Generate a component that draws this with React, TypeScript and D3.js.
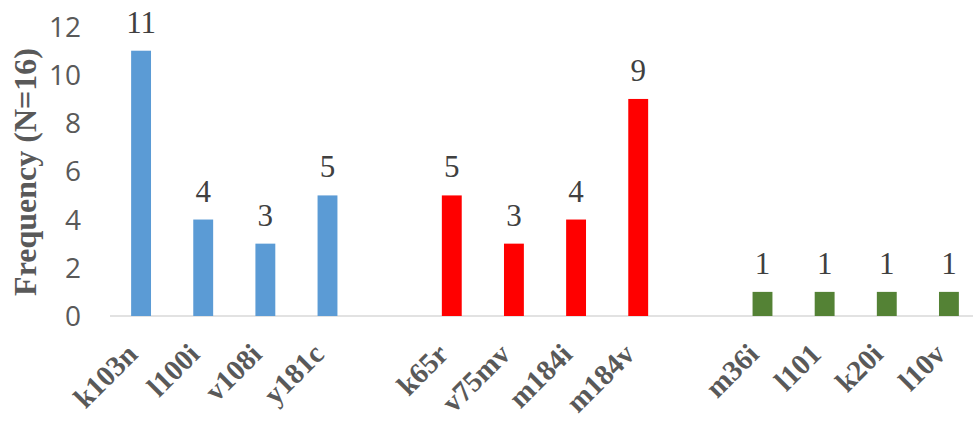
import React from "react";
import * as d3 from "d3";

const categories = ["k103n", "l100i", "v108i", "y181c", "", "k65r", "v75mv", "m184i", "m184v", "", "m36i", "l101", "k20i", "l10v"];
const values: (number | null)[] = [11, 4, 3, 5, null, 5, 3, 4, 9, null, 1, 1, 1, 1];
const groups = ["blue", "blue", "blue", "blue", "", "red", "red", "red", "red", "", "green", "green", "green", "green"];
const yTicks = [0, 2, 4, 6, 8, 10, 12];
const colorMap: Record<string, string> = { blue: "#5b9bd5", red: "#ff0000", green: "#548235" };

export default function App() {
  const W = 973, H = 425;
  const idx = categories.map((_, i) => String(i));
  const x = d3.scaleBand<string>().domain(idx).range([110, 980]).paddingInner(0.68).paddingOuter(0.34);
  const y = d3.scaleLinear().domain([0, 12]).range([316, 26.6]);
  return (
    <div style={{ position: "absolute", left: 0, top: 0 }}>
      <svg width={W} height={H} style={{ display: "block", background: "#fff" }}>
        <line x1={110} x2={W} y1={y(0)} y2={y(0)} stroke="#d9d9d9" strokeWidth={1.5} />
        {yTicks.map((t) => (
          <text key={t} x={81} y={y(t)} dy="0.36em" textAnchor="end" fill="#595959"
            style={{ fontFamily: "'Open Sans', sans-serif", fontSize: 28 }}>{t}</text>
        ))}
        <text transform={`translate(36,${172}) rotate(-90)`} textAnchor="middle" fill="#595959"
          style={{ fontFamily: "'Liberation Serif', serif", fontSize: 32, fontWeight: "bold" }}>Frequency (N=16)</text>
        {values.map((v, i) => v == null ? null : (
          <g key={i}>
            <rect x={x(String(i))!} width={x.bandwidth()} y={y(v)} height={y(0) - y(v)} fill={colorMap[groups[i]]} />
            <text x={x(String(i))! + x.bandwidth() / 2} y={y(v) - 18} textAnchor="middle" fill="#404040"
              style={{ fontFamily: "'Liberation Serif', serif", fontSize: 31 }}>{v}</text>
          </g>
        ))}
        {categories.map((c, i) => c === "" ? null : (
          <text key={"l" + i} transform={`translate(${x(String(i))! + x.bandwidth() / 2 - 2},${356}) rotate(-45)`}
            textAnchor="end" fill="#595959"
            style={{ fontFamily: "'Liberation Serif', serif", fontSize: 29, fontWeight: "bold" }}>{c}</text>
        ))}
      </svg>
    </div>
  );
}
